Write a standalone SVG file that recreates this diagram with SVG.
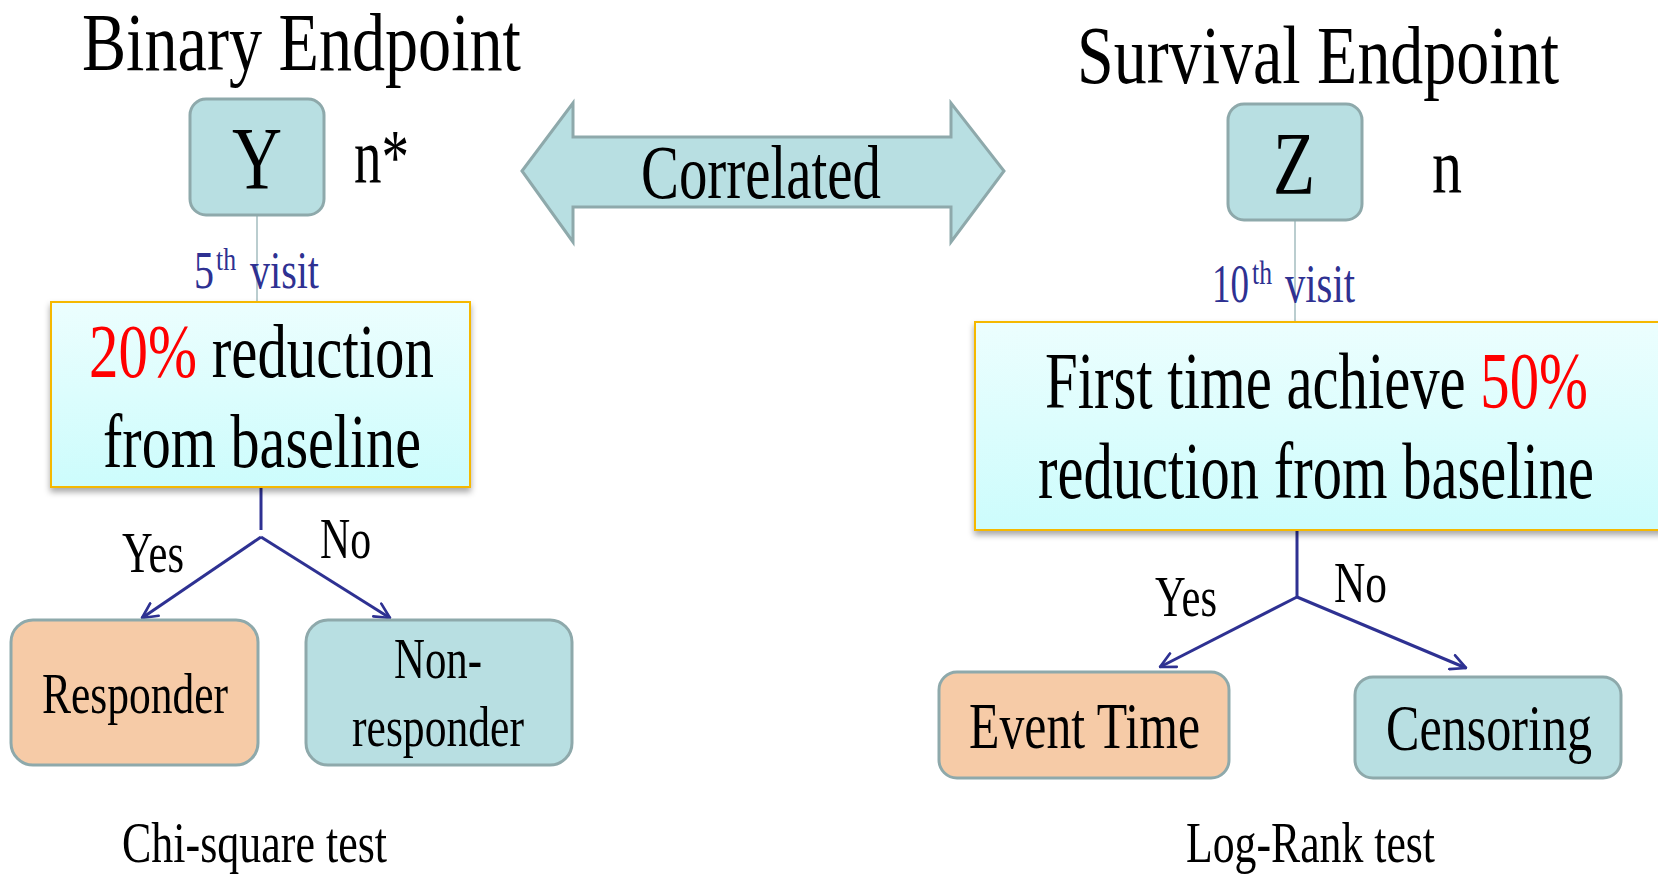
<svg xmlns="http://www.w3.org/2000/svg" width="1658" height="874" viewBox="0 0 1658 874">
<defs>
<style>
text{font-family:"Liberation Serif","Times New Roman",serif;fill:#000}
.blue{fill:#2e3192}
.red{fill:#ff0000}
.node{fill:#b8dfe2;stroke:#8ea9ab;stroke-width:3}
.peach{fill:#f6cba7;stroke:#8ea9ab;stroke-width:3}
.ybox{fill:url(#yg);stroke:#f5b800;stroke-width:2;filter:url(#sh)}
.thin{stroke:#a3bcbf;stroke-width:1.5;fill:none}
.conn{stroke:#2e3192;stroke-width:3;fill:none}
.arr{marker-end:url(#ah)}
</style>
<linearGradient id="yg" x1="0" y1="0" x2="0" y2="1">
<stop offset="0" stop-color="#ecfefe"/>
<stop offset="1" stop-color="#ccfcfc"/>
</linearGradient>
<filter id="sh" x="-5%" y="-5%" width="110%" height="120%">
<feDropShadow dx="0" dy="4" stdDeviation="3" flood-color="#000" flood-opacity="0.35"/>
</filter>
<marker id="ah" viewBox="0 0 12 12" markerWidth="6" markerHeight="6" refX="11" refY="6" orient="auto" markerUnits="strokeWidth">
<path d="M1,1 L11,6 L1,11" stroke="#2e3192" stroke-width="1.8" fill="none" stroke-linecap="round" stroke-linejoin="round"/>
</marker>
</defs>
<rect width="1658" height="874" fill="#fff"/>

<g id="titles">
<text x="82" y="70" font-size="83" textLength="439" lengthAdjust="spacingAndGlyphs">Binary Endpoint</text>
<text x="1077" y="83" font-size="83" textLength="482" lengthAdjust="spacingAndGlyphs">Survival Endpoint</text>
</g>

<g id="connectors">
<line class="thin" x1="257" y1="215" x2="257" y2="302"/>
<line class="thin" x1="1295" y1="220" x2="1295" y2="322"/>
<line class="conn" x1="261" y1="488" x2="261" y2="530"/>
<line class="conn arr" x1="261" y1="537" x2="142" y2="618"/>
<line class="conn arr" x1="261" y1="537" x2="390" y2="618"/>
<line class="conn" x1="1297" y1="531" x2="1297" y2="597"/>
<line class="conn arr" x1="1297" y1="597" x2="1160" y2="667"/>
<line class="conn arr" x1="1297" y1="597" x2="1466" y2="668"/>
</g>

<g id="nodeY">
<rect class="node" x="190" y="99" width="134" height="116" rx="16"/>
<text x="257" y="188" font-size="88" text-anchor="middle" textLength="50" lengthAdjust="spacingAndGlyphs">Y</text>
</g>
<g id="labelNstar">
<text x="354" y="183" font-size="78" textLength="55" lengthAdjust="spacingAndGlyphs">n*</text>
</g>

<g id="nodeZ">
<rect class="node" x="1228" y="104" width="134" height="116" rx="16"/>
<text x="1294" y="193" font-size="88" text-anchor="middle" textLength="42" lengthAdjust="spacingAndGlyphs">Z</text>
</g>
<g id="labelN">
<text x="1432" y="193" font-size="78" textLength="30" lengthAdjust="spacingAndGlyphs">n</text>
</g>

<g id="correlated">
<polygon class="node" points="522,171 573,103 573,137 951,137 951,103 1004,171 951,242 951,207 573,207 573,242"/>
<text x="641" y="198" font-size="76" textLength="240" lengthAdjust="spacingAndGlyphs">Correlated</text>
</g>

<g id="visit5">
<text class="blue" x="194" y="288" font-size="52" textLength="20" lengthAdjust="spacingAndGlyphs">5</text>
<text class="blue" x="216" y="270" font-size="32" textLength="20" lengthAdjust="spacingAndGlyphs">th</text>
<text class="blue" x="250" y="288" font-size="52" textLength="69" lengthAdjust="spacingAndGlyphs">visit</text>
</g>
<g id="visit10">
<text class="blue" x="1212" y="302" font-size="55" textLength="37" lengthAdjust="spacingAndGlyphs">10</text>
<text class="blue" x="1252" y="284" font-size="34" textLength="20" lengthAdjust="spacingAndGlyphs">th</text>
<text class="blue" x="1285" y="302" font-size="55" textLength="70" lengthAdjust="spacingAndGlyphs">visit</text>
</g>

<g id="criterionLeft">
<rect class="ybox" x="51" y="302" width="419" height="185"/>
<text x="89" y="377" font-size="76" textLength="345" lengthAdjust="spacingAndGlyphs"><tspan class="red">20%</tspan> reduction</text>
<text x="103" y="467" font-size="76" textLength="318" lengthAdjust="spacingAndGlyphs">from baseline</text>
</g>

<g id="criterionRight">
<rect class="ybox" x="975" y="322" width="690" height="208"/>
<text x="1045" y="408" font-size="80" textLength="543" lengthAdjust="spacingAndGlyphs">First time achieve <tspan class="red">50%</tspan></text>
<text x="1038" y="498" font-size="80" textLength="556" lengthAdjust="spacingAndGlyphs">reduction from baseline</text>
</g>

<g id="branchLabels">
<text x="122" y="572" font-size="56" textLength="62" lengthAdjust="spacingAndGlyphs">Yes</text>
<text x="320" y="558" font-size="56" textLength="51" lengthAdjust="spacingAndGlyphs">No</text>
<text x="1155" y="616" font-size="56" textLength="62" lengthAdjust="spacingAndGlyphs">Yes</text>
<text x="1334" y="602" font-size="56" textLength="53" lengthAdjust="spacingAndGlyphs">No</text>
</g>

<g id="responder">
<rect class="peach" x="11" y="620" width="247" height="145" rx="22"/>
<text x="42" y="713" font-size="58" textLength="186" lengthAdjust="spacingAndGlyphs">Responder</text>
</g>
<g id="nonresponder">
<rect class="node" x="306" y="620" width="266" height="145" rx="22"/>
<text x="394" y="678" font-size="58" textLength="88" lengthAdjust="spacingAndGlyphs">Non-</text>
<text x="352" y="746" font-size="58" textLength="172" lengthAdjust="spacingAndGlyphs">responder</text>
</g>

<g id="eventTime">
<rect class="peach" x="939" y="672" width="290" height="106" rx="18"/>
<text x="969" y="748" font-size="65" textLength="231" lengthAdjust="spacingAndGlyphs">Event Time</text>
</g>
<g id="censoring">
<rect class="node" x="1355" y="677" width="266" height="101" rx="18"/>
<text x="1386" y="750" font-size="65" textLength="206" lengthAdjust="spacingAndGlyphs">Censoring</text>
</g>

<g id="tests">
<text x="122" y="862" font-size="56" textLength="265" lengthAdjust="spacingAndGlyphs">Chi-square test</text>
<text x="1186" y="862" font-size="56" textLength="249" lengthAdjust="spacingAndGlyphs">Log-Rank test</text>
</g>
</svg>
